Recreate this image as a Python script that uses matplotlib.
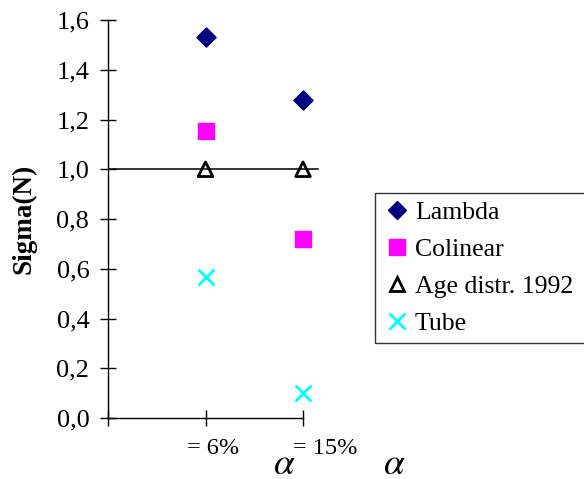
import matplotlib
matplotlib.use("Agg")
import matplotlib.pyplot as plt
import matplotlib.transforms as mtransforms
from matplotlib.lines import Line2D

plt.rcParams['font.family'] = ['Liberation Serif', 'DejaVu Serif']
plt.rcParams['mathtext.fontset'] = 'stix'

categories = ["= 6%", "= 15%"]
lambda_vals = [1.53, 1.28]
colinear_vals = [1.155, 0.72]
age_vals = [1.0, 1.0]
tube_vals = [0.565, 0.10]
yticks = [0.0, 0.2, 0.4, 0.6, 0.8, 1.0, 1.2, 1.4, 1.6]
ytick_labels = ["0,0", "0,2", "0,4", "0,6", "0,8", "1,0", "1,2", "1,4", "1,6"]
ref_level = 1.0

W, H = 584, 479
fig = plt.figure(figsize=(W / 100, H / 100), dpi=100)
left_px, right_px, top_px, bottom_px = 108, 322.5, 20, 418
ax = fig.add_axes([left_px / W, 1 - bottom_px / H, (right_px - left_px) / W, (bottom_px - top_px) / H])

xpos = [1, 2]
ax.set_xlim(0, 2.2)
ax.set_ylim(0, 1.6)

ax.plot([0, 2.15], [ref_level, ref_level], color='black', lw=1.1, zorder=1)

ax.scatter(xpos, lambda_vals, marker='D', s=95, color='#000080', zorder=3, clip_on=False)
ax.scatter(xpos, colinear_vals, marker='s', s=140, color='#FF00FF', zorder=3, clip_on=False)
ax.scatter(xpos, age_vals, marker='^', s=110, facecolor='none', edgecolor='black', linewidths=2, zorder=3, clip_on=False)
ax.scatter(xpos, tube_vals, marker='x', s=130, color='#00FFFF', linewidths=2, zorder=3, clip_on=False)

for s in ['top', 'right']:
    ax.spines[s].set_visible(False)
ax.spines['bottom'].set_bounds(0, 2)
ax.spines['left'].set_linewidth(1.0)
ax.spines['bottom'].set_linewidth(1.0)

ax.set_yticks(yticks)
ax.set_yticklabels(ytick_labels)
ax.tick_params(axis='y', direction='inout', length=11, width=1.0, pad=8, labelsize=19)
ax.set_xticks([0] + xpos)
ax.set_xticklabels([""] + categories)
ax.tick_params(axis='x', direction='inout', length=11, width=1.0, pad=9, labelsize=17.5)

offsets = [0, 8, 22]
for lab, dx in zip(ax.get_xticklabels(), offsets):
    lab.set_transform(lab.get_transform() + mtransforms.ScaledTranslation(dx / 100, 0, fig.dpi_scale_trans))

ax.set_ylabel("Sigma(N)", fontsize=19.5, fontweight='bold')
ax.yaxis.set_label_coords((37 - left_px) / (right_px - left_px), 0.5)

for xp in (284, 394):
    fig.text(xp / W, 1 - 474 / H, r"$\alpha$", fontsize=27, ha='center', va='baseline')

handles = [
    Line2D([], [], marker='D', ls='none', color='#000080', markersize=9),
    Line2D([], [], marker='s', ls='none', color='#FF00FF', markersize=11),
    Line2D([], [], marker='^', ls='none', markerfacecolor='none', markeredgecolor='black', markeredgewidth=2, markersize=10),
    Line2D([], [], marker='x', ls='none', color='#00FFFF', markeredgewidth=2, markersize=11),
]
labels = ["Lambda", "Colinear", "Age distr. 1992", "Tube"]
leg = fig.legend(handles, labels, loc='upper left',
                 bbox_to_anchor=(375 / W, 0, 240 / W, 1 - 193 / H), mode='expand',
                 fontsize=18.5, frameon=True, fancybox=False, edgecolor='black',
                 handlelength=1.1, handletextpad=0.15, borderaxespad=0, borderpad=0.3,
                 labelspacing=0.55, shadow=False)
leg.get_frame().set_linewidth(1.0)

fig.savefig("out.png", dpi=100)
